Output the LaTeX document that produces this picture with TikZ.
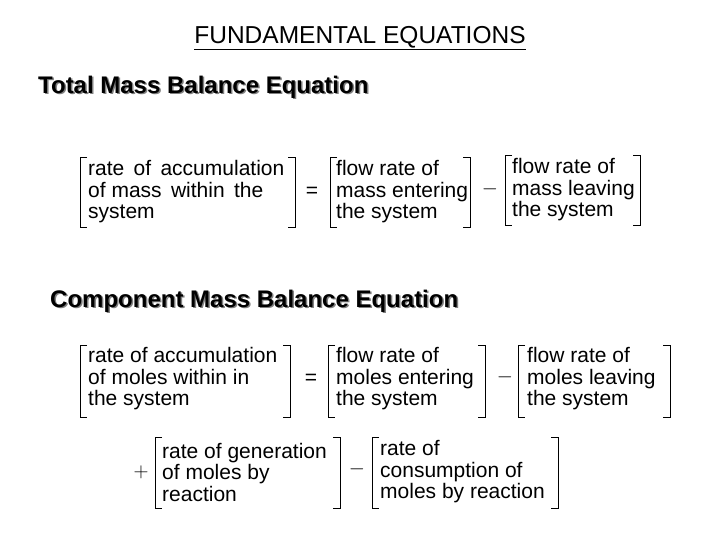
\documentclass[tikz,border=0pt]{standalone}
\usepackage{fontspec}
\setmainfont{Liberation Sans}
\begin{document}
\begin{tikzpicture}[x=1pt,y=-1pt,
 txt/.style={font=\fontsize{21}{21.5}\selectfont,align=left,anchor=west,inner sep=0},
 hd/.style={font=\fontsize{24}{26}\selectfont\bfseries,anchor=west,inner sep=0},
 br/.style={line width=0.8pt},
 op/.style={font=\fontsize{21}{21}\selectfont,inner sep=0}]
\useasboundingbox (0,0) rectangle (720,540);
\node[font=\fontsize{24.5}{26}\selectfont,inner sep=0] (title) at (360,38) {\underline{FUNDAMENTAL EQUATIONS}};
\node[hd,gray] (h1s) at (39.5,88.5) {Total Mass Balance Equation};
\node[hd] (h1) at (38,87) {Total Mass Balance Equation};
\node[hd,gray] (h2s) at (51.5,302.5) {Component Mass Balance Equation};
\node[hd] (h2) at (50,301) {Component Mass Balance Equation};
\newcommand{\brk}[5]{% x1 x2 ytop ybot name
 \draw[br] (#1+7,#3)--(#1,#3)--(#1,#4)--(#1+7,#4);
 \draw[br] (#2-7,#3)--(#2,#3)--(#2,#4)--(#2-7,#4);}
% row 1
\brk{80}{295}{157}{227}{}
\node[txt] (a1) at (88,192) {rate\, of\, accumulation\\of mass\, within\, the\\system};
\node[op] (eq1) at (312,192) {=};
\brk{330}{470}{157}{227}{}
\node[txt] (a2) at (336,192) {flow rate of\\mass entering\\the system};
\node[op] (m1) at (490,189) {$-$};
\brk{505}{640}{155}{225}{}
\node[txt] (a3) at (512,190) {flow rate of\\mass leaving\\the system};
% row 2
\brk{80}{290}{345}{417}{}
\node[txt] (b1) at (88,379) {rate of accumulation\\of moles within in\\the system};
\node[op] (eq2) at (311,379) {=};
\brk{328}{485}{345}{417}{}
\node[txt] (b2) at (336,379) {flow rate of\\moles entering\\the system};
\node[op] (m2) at (505,377) {$-$};
\brk{518}{670}{345}{417}{}
\node[txt] (b3) at (527,379) {flow rate of\\moles leaving\\the system};
% row 3
\node[op] (p3) at (141,472) {$+$};
\brk{155}{340}{437}{508}{}
\node[txt] (c1) at (162,472) {rate of generation\\of moles by\\reaction};
\node[op] (m3) at (357,469) {$-$};
\brk{372}{558}{437}{508}{}
\node[txt] (c2) at (380,472) {rate of\\consumption of\\moles by reaction};
\end{tikzpicture}
\end{document}
